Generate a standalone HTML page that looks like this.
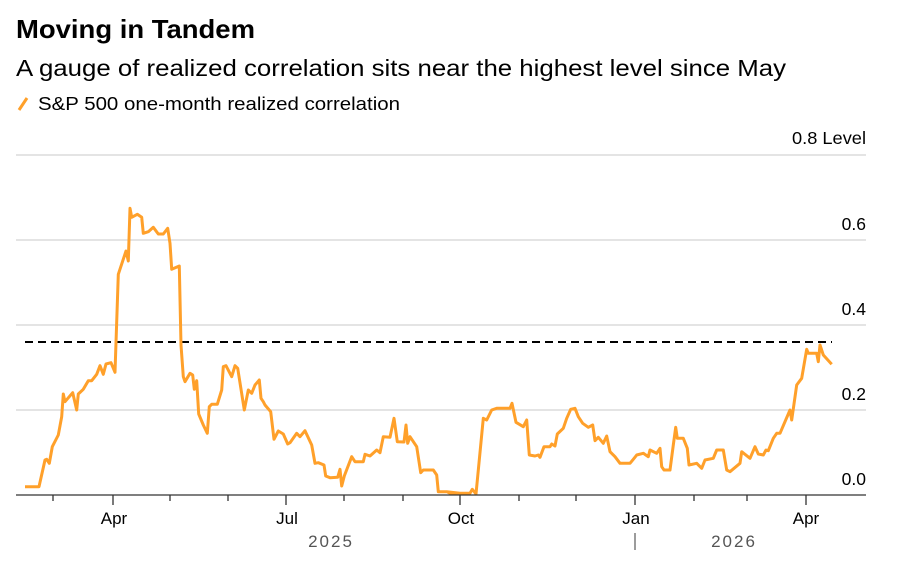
<!DOCTYPE html>
<html><head><meta charset="utf-8"><style>
body{margin:0;background:#fff;width:914px;height:570px;overflow:hidden;font-family:"Liberation Sans",sans-serif;}
</style></head><body>
<svg width="914" height="570" xmlns="http://www.w3.org/2000/svg" font-family="Liberation Sans, sans-serif">
<text x="16" y="38" font-size="26" font-weight="bold" fill="#000" textLength="239" lengthAdjust="spacingAndGlyphs">Moving in Tandem</text>
<text x="16" y="76" font-size="23" fill="#000" textLength="770" lengthAdjust="spacingAndGlyphs">A gauge of realized correlation sits near the highest level since May</text>
<line x1="19" y1="110" x2="27" y2="98" stroke="#ffa02a" stroke-width="3"/>
<text x="38" y="110" font-size="18" fill="#000" textLength="362" lengthAdjust="spacingAndGlyphs">S&amp;P 500 one-month realized correlation</text>
<g stroke="#d4d4d4" stroke-width="1.3">
<line x1="16" y1="155" x2="866" y2="155"/><line x1="16" y1="240" x2="866" y2="240"/>
<line x1="16" y1="325" x2="866" y2="325"/><line x1="16" y1="410" x2="866" y2="410"/>
</g>
<g font-size="17.5" fill="#000" text-anchor="end">
<text x="866" y="144" textLength="74" lengthAdjust="spacingAndGlyphs">0.8 Level</text><text x="866" y="230">0.6</text><text x="866" y="315">0.4</text>
<text x="866" y="400">0.2</text><text x="866" y="485">0.0</text>
</g>
<line x1="25" y1="342" x2="832" y2="342" stroke="#000" stroke-width="2" stroke-dasharray="8,5"/>
<polyline id="ln" fill="none" stroke="#ffa02a" stroke-width="3" stroke-linejoin="round"/>
<line x1="16" y1="495" x2="866" y2="495" stroke="#333" stroke-width="1.3"/>
<g stroke="#333" stroke-width="1.3">
<line x1="53" y1="495" x2="53" y2="501"/><line x1="113" y1="495" x2="113" y2="505"/>
<line x1="170" y1="495" x2="170" y2="501"/><line x1="228" y1="495" x2="228" y2="501"/>
<line x1="286" y1="495" x2="286" y2="505"/><line x1="344" y1="495" x2="344" y2="501"/>
<line x1="403" y1="495" x2="403" y2="501"/><line x1="460" y1="495" x2="460" y2="505"/>
<line x1="519" y1="495" x2="519" y2="501"/><line x1="576" y1="495" x2="576" y2="501"/>
<line x1="635" y1="495" x2="635" y2="505"/><line x1="694" y1="495" x2="694" y2="501"/>
<line x1="747" y1="495" x2="747" y2="501"/><line x1="806" y1="495" x2="806" y2="505"/>
<line x1="635" y1="533" x2="635" y2="550" stroke="#666"/>
</g>
<g font-size="17" fill="#000" text-anchor="middle">
<text x="114" y="524">Apr</text><text x="287" y="524">Jul</text><text x="461" y="524">Oct</text>
<text x="636" y="524">Jan</text><text x="806" y="524">Apr</text>
</g>
<g font-size="17" fill="#555" text-anchor="middle" letter-spacing="2">
<text x="331" y="547">2025</text><text x="734" y="547">2026</text>
</g>
</svg>
<script>
var a=[75,890,117,890,135,810,140,808,148,820,157,770,175,735,185,680,190,612,195,635,218,608,230,660,235,612,250,598,265,572,275,572,290,553,300,527,310,553,318,522,333,518,345,547,355,253,378,183,385,213,390,55,395,82,412,73,425,82,430,130,445,125,460,112,475,132,490,132,503,115,510,160,515,238,538,228,543,465,550,560,555,575,570,550,578,555,583,598,590,572,596,672,610,705,622,730,628,650,635,643,652,643,665,600,670,530,678,527,695,560,705,527,713,535,733,660,745,600,755,610,765,585,778,570,783,625,790,635,795,645,812,665,822,748,835,723,850,732,863,762,870,758,890,730,900,740,915,722,935,765,945,820,955,818,972,825,977,858,990,863,1013,862,1020,838,1025,888,1033,858,1055,800,1065,815,1090,815,1095,793,1110,798,1130,780,1140,788,1150,740,1170,742,1182,685,1192,755,1212,756,1218,705,1223,760,1230,740,1250,770,1262,848,1270,840,1300,840,1310,855,1315,905,1340,905,1350,910,1380,910];
var b=[20,515,30,520,90,520,97,508,108,522,130,295,140,300,155,270,170,265,210,265,216,250,228,307,250,320,260,300,268,405,285,408,295,405,300,412,312,380,330,380,335,372,345,378,352,342,370,325,380,295,392,268,405,265,415,290,428,310,445,322,458,315,465,362,475,352,490,370,500,348,510,395,525,410,540,430,570,430,580,418,590,405,610,400,625,410,630,390,650,400,660,385,665,440,672,450,690,450,700,375,707,322,712,355,730,355,742,385,747,435,770,430,785,445,795,420,820,415,830,390,850,390,860,450,870,455,900,430,905,395,930,415,945,380,955,402,970,405,978,390,985,392,1000,355,1010,340,1020,340,1050,270,1055,300,1070,195,1085,175,1100,88,1105,100,1130,100,1135,125,1140,75,1150,105,1175,133];
var p=[];
for(var i=0;i<a.length;i+=2)p.push((a[i]/3).toFixed(1)+","+(a[i+1]/3+190).toFixed(1));
for(var i=0;i<b.length;i+=2)p.push((b[i]/3+440).toFixed(1)+","+(b[i+1]/3+320).toFixed(1));
document.getElementById("ln").setAttribute("points",p.join(" "));
</script>
</body></html>
